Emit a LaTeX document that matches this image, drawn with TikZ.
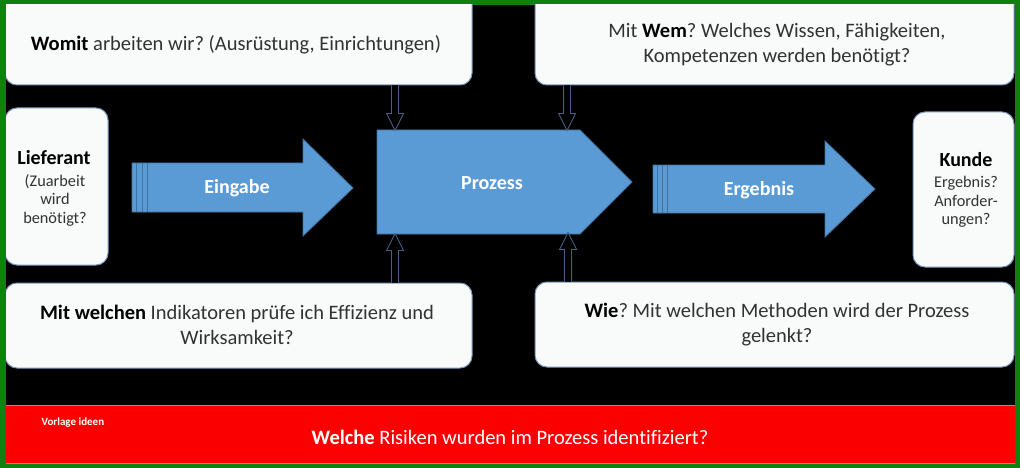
\documentclass[tikz,border=0pt]{standalone}
\usepackage{fontspec}
\setmainfont{Carlito}[Ligatures={NoCommon}]
\frenchspacing
\definecolor{frameg}{RGB}{16,128,16}
\definecolor{boxfill}{RGB}{249,250,250}
\definecolor{boxline}{RGB}{120,150,190}
\definecolor{arrblue}{RGB}{91,155,213}
\definecolor{arrline}{RGB}{65,113,156}
\definecolor{hollow}{RGB}{70,95,130}
\definecolor{txt}{RGB}{50,50,50}
\definecolor{barred}{RGB}{250,0,0}
\begin{document}
\begin{tikzpicture}[x=1pt,y=-1pt,
  qbox/.style={draw=boxline, line width=1pt, fill=boxfill, rounded corners=12pt, inner sep=0pt},
  qtext/.style={text=txt, align=center, font=\fontsize{20.5}{25}\selectfont},
  stext/.style={text=txt, align=center, font=\fontsize{16.3}{18.5}\selectfont},
  atext/.style={text=white, font=\bfseries\fontsize{20}{22}\selectfont},
  blockarr/.style={fill=arrblue, draw=arrline, line width=0.8pt},
  hollowarr/.style={draw=hollow, line width=0.9pt, fill=black},
  hdown/.pic={\draw[hollowarr] (-3.5,0) -- (-3.5,28) -- (-8.5,28) -- (0,45) -- (8.5,28) -- (3.5,28) -- (3.5,0);},
  hup/.pic={\draw[hollowarr] (-3.5,0) -- (-3.5,-32) -- (-8.5,-32) -- (0,-49) -- (8.5,-32) -- (3.5,-32) -- (3.5,0);}
]
\useasboundingbox (0,0) rectangle (1020,468);
\fill[frameg] (0,0) rectangle (1020,468);
\fill[black] (6,5) rectangle (1015,463);
\begin{scope}
\clip (6,5) rectangle (1015,463);
% boxes
\node[qbox, minimum width=467, minimum height=95] (womit) at (238.5,37.5) {};
\node[qbox, minimum width=479, minimum height=95] (wem) at (774.5,37.5) {};
\node[qbox, minimum width=103, minimum height=157] (lief) at (56.5,186.5) {};
\node[qbox, minimum width=101, minimum height=155] (kunde) at (963.5,189.5) {};
\node[qbox, minimum width=467, minimum height=85] (mitw) at (238.5,325.5) {};
\node[qbox, minimum width=479, minimum height=85] (wie) at (774.5,324.5) {};
% red bar
\node[fill=barred, draw=boxline, line width=0.8pt, minimum width=1011, minimum height=58, inner sep=0pt] (risk) at (510.5,434) {};
\end{scope}
% texts
\node[qtext] (twomit) at (236,45) {\textbf{\color{black}Womit} arbeiten wir? (Ausrüstung, Einrichtungen)};
\node[qtext] (twem) at (777,45) {Mit \textbf{\color{black}Wem}? Welches Wissen, Fähigkeiten,\\Kompetenzen werden benötigt?};
\node[qtext] (tmitw) at (237,325) {\textbf{\color{black}Mit welchen} Indikatoren prüfe ich Effizienz und\\Wirksamkeit?};
\node[qtext] (twie) at (777,325) {\textbf{\color{black}Wie}? Mit welchen Methoden wird der Prozess\\gelenkt?};
\node[text=black, font=\bfseries\fontsize{20}{22}\selectfont] (tlief) at (54,158) {Lieferant};
\node[stext] (tlief2) at (55,200) {(Zuarbeit\\wird\\benötigt?};
\node[text=black, font=\bfseries\fontsize{20}{22}\selectfont] (tkunde) at (966,160) {Kunde};
\node[stext] (tkunde2) at (966,202) {Ergebnis?\\Anforder-\\ungen?};
\node[text=white, font=\fontsize{20.5}{22}\selectfont] (trisk) at (510,437) {\textbf{Welche} Risiken wurden im Prozess identifiziert?};
\node[text=white, font=\bfseries\fontsize{11}{12}\selectfont, anchor=west] (vorl) at (38,423) {Vorlage ideen};
% block arrows
\draw[blockarr] (132,163) -- (303,163) -- (303,139) -- (353,188) -- (303,236) -- (303,212) -- (132,212) -- cycle;
\draw[arrline, line width=0.8pt] (136,163) -- (136,212) (142,163) -- (142,212) (147,163) -- (147,212);
\draw[blockarr] (377,130) -- (580,130) -- (632,182) -- (580,234) -- (377,234) -- cycle;
\draw[blockarr] (653,165) -- (825,165) -- (825,141) -- (875,189) -- (825,237) -- (825,213) -- (653,213) -- cycle;
\draw[arrline, line width=0.8pt] (657,165) -- (657,213) (662,165) -- (662,213) (667,165) -- (667,213);
\node[atext] (tein) at (237,188) {Eingabe};
\node[atext] (tproz) at (492,183) {Prozess};
\node[atext] (terg) at (759,190) {Ergebnis};
% hollow connector arrows
\pic at (395,85.5) {hdown};
\pic at (567,85.5) {hdown};
\pic at (395,282.5) {hup};
\pic at (568,281.5) {hup};
\end{tikzpicture}
\end{document}
